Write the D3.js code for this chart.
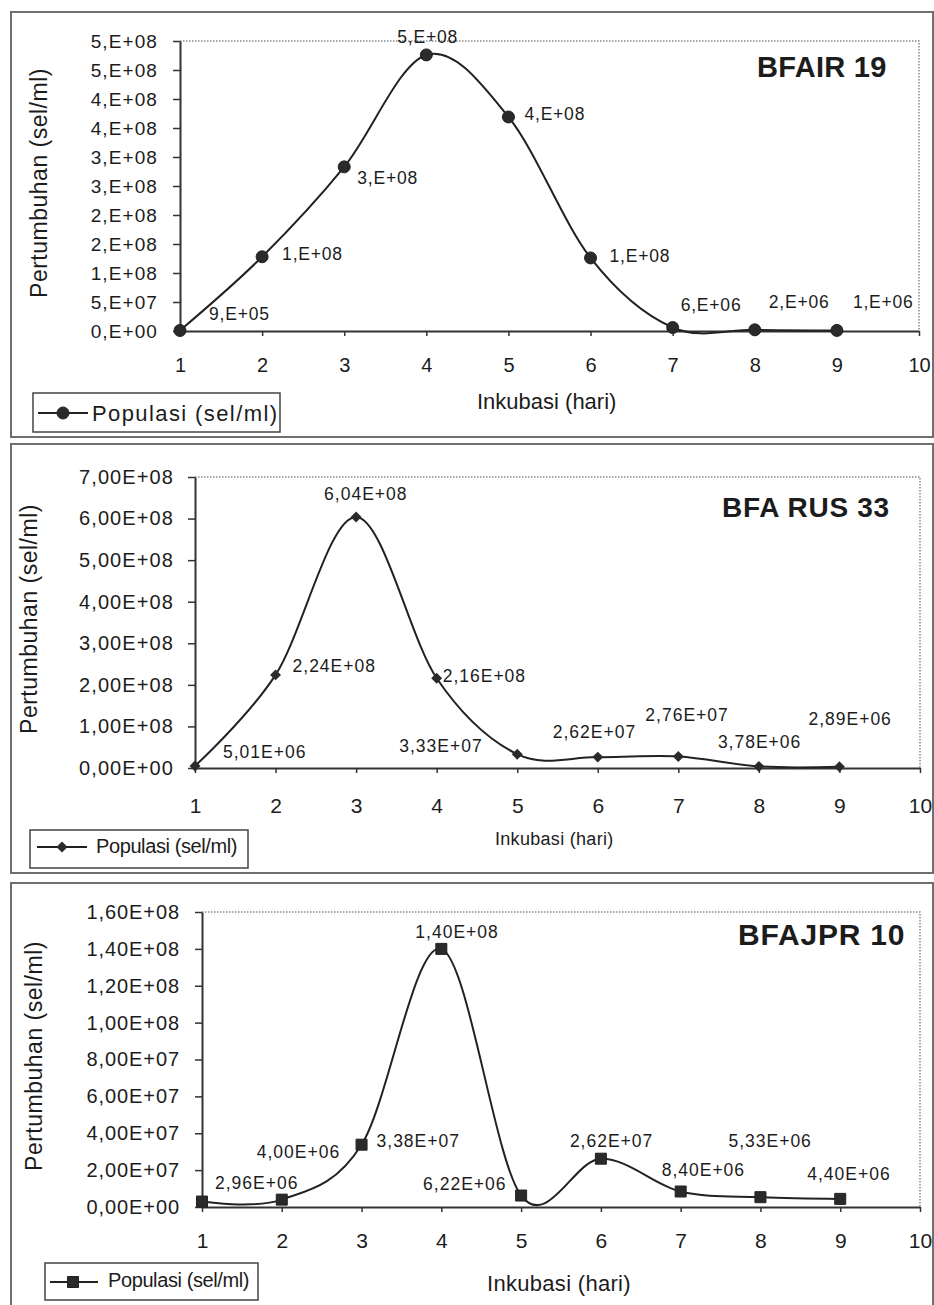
<!DOCTYPE html>
<html><head><meta charset="utf-8">
<script src="https://cdn.jsdelivr.net/npm/d3@7"></script>
<style>
body{margin:0;background:#fff}
svg{display:block}
text{font-family:'Liberation Sans',Arial,sans-serif;fill:#1c1c1c}
</style></head>
<body><svg id="c" width="934" height="1305"></svg>
<script>
// ---------------- DATA ----------------
const days = [1, 2, 3, 4, 5, 6, 7, 8, 9];
const xTickValues = [1, 2, 3, 4, 5, 6, 7, 8, 9, 10];

const bfair19Values = [9e5, 1.28e8, 2.83e8, 4.76e8, 3.69e8, 1.26e8, 6e6, 2e6, 1e6];
const bfair19Labels = ["9,E+05", "1,E+08", "3,E+08", "5,E+08", "4,E+08", "1,E+08", "6,E+06", "2,E+06", "1,E+06"];
const bfair19YTicks = [0, 5e7, 1e8, 1.5e8, 2e8, 2.5e8, 3e8, 3.5e8, 4e8, 4.5e8, 5e8];
const bfair19YTickLabels = ["0,E+00", "5,E+07", "1,E+08", "2,E+08", "2,E+08", "3,E+08", "3,E+08", "4,E+08", "4,E+08", "5,E+08", "5,E+08"];

const rus33Values = [5.01e6, 2.24e8, 6.04e8, 2.16e8, 3.33e7, 2.62e7, 2.76e7, 3.78e6, 2.89e6];
const rus33Labels = ["5,01E+06", "2,24E+08", "6,04E+08", "2,16E+08", "3,33E+07", "2,62E+07", "2,76E+07", "3,78E+06", "2,89E+06"];
const rus33YTicks = [0, 1e8, 2e8, 3e8, 4e8, 5e8, 6e8, 7e8];
const rus33YTickLabels = ["0,00E+00", "1,00E+08", "2,00E+08", "3,00E+08", "4,00E+08", "5,00E+08", "6,00E+08", "7,00E+08"];

const jpr10Values = [2.96e6, 4.00e6, 3.38e7, 1.40e8, 6.22e6, 2.62e7, 8.40e6, 5.33e6, 4.40e6];
const jpr10Labels = ["2,96E+06", "4,00E+06", "3,38E+07", "1,40E+08", "6,22E+06", "2,62E+07", "8,40E+06", "5,33E+06", "4,40E+06"];
const jpr10YTicks = [0, 2e7, 4e7, 6e7, 8e7, 1e8, 1.2e8, 1.4e8, 1.6e8];
const jpr10YTickLabels = ["0,00E+00", "2,00E+07", "4,00E+07", "6,00E+07", "8,00E+07", "1,00E+08", "1,20E+08", "1,40E+08", "1,60E+08"];

const titles = ["BFAIR 19", "BFA RUS 33", "BFAJPR 10"];
const yTitle = "Pertumbuhan (sel/ml)";
const xTitle = "Inkubasi (hari)";
const legendText = "Populasi (sel/ml)";

// ---------------- LAYOUT ----------------
const panels = [
  {
    values: bfair19Values, labels: bfair19Labels, yTicks: bfair19YTicks, yTickLabels: bfair19YTickLabels,
    title: titles[0], marker: "circle",
    frame: [11, 12, 922, 425],
    l: 180, r: 919, t: 41, b: 331, yMax: 5e8,
    yPad: 15, yFont: 19, yLs: 1.1, xPad: 22, xFont: 20,
    lblFont: 17.5, lblLs: 0.8,
    offsets: [[29,-10],[20,3],[13,17],[-29,-12],[16,3],[19,4],[8,-17],[14,-22],[16,-22]],
    titlePos: [757, 77, 29, 0.3],
    yTitlePos: [47, 183, 23, 0.5],
    xTitlePos: [477, 409, 22, 0],
    legend: {box: [33, 393, 247, 39], line: [38, 88, 413], mx: 63, tx: 92, ty: 421, font: 22, ls: 1.4}
  },
  {
    values: rus33Values, labels: rus33Labels, yTicks: rus33YTicks, yTickLabels: rus33YTickLabels,
    title: titles[1], marker: "diamond",
    frame: [11, 444, 922, 429],
    l: 195, r: 920, t: 477, b: 768, yMax: 7e8,
    yPad: 14, yFont: 20, yLs: 1.1, xPad: 25, xFont: 21,
    lblFont: 17.5, lblLs: 1,
    offsets: [[28,-8],[17,-3],[-32,-17],[6,4],[-118,-2],[-45,-19],[-33,-36],[-41,-18],[-31,-42]],
    titlePos: [722, 517, 28, 0.7],
    yTitlePos: [37, 619, 23, 0.5],
    xTitlePos: [495, 845, 18, 0.3],
    legend: {box: [30, 830, 218, 38], line: [37, 87, 847], mx: 62, tx: 96, ty: 853, font: 20, ls: -0.4}
  },
  {
    values: jpr10Values, labels: jpr10Labels, yTicks: jpr10YTicks, yTickLabels: jpr10YTickLabels,
    title: titles[2], marker: "square",
    frame: [11, 883, 922, 430],
    l: 202, r: 920, t: 912, b: 1207, yMax: 1.6e8,
    yPad: 15, yFont: 20, yLs: 0.9, xPad: 21, xFont: 21,
    lblFont: 17.5, lblLs: 1,
    offsets: [[13,-13],[-25,-42],[15,2],[-26,-11],[-98,-6],[-31,-12],[-19,-16],[-32,-50],[-33,-19]],
    titlePos: [738, 945, 30, 0.8],
    yTitlePos: [42, 1056, 23, 0.5],
    xTitlePos: [487, 1291, 22, 0.3],
    legend: {box: [45, 1263, 213, 37], line: [50, 98, 1282], mx: 73, tx: 108, ty: 1287, font: 20, ls: -0.4}
  }
];

const INK = "#222";
const svg = d3.select("#c");

function drawMarker(sel, type, cx, cy) {
  if (type === "circle") {
    sel.append("circle").attr("cx", cx).attr("cy", cy).attr("r", 6).attr("fill", "#2a2a2a").attr("stroke", "#222");
  } else if (type === "diamond") {
    sel.append("path").attr("d", d3.symbol(d3.symbolSquare, 60)())
      .attr("transform", `translate(${cx},${cy}) rotate(45)`).attr("fill", "#2a2a2a");
  } else {
    sel.append("path").attr("d", d3.symbol(d3.symbolSquare, 121)())
      .attr("transform", `translate(${cx},${cy})`).attr("fill", "#2a2a2a").attr("stroke", "#222");
  }
}

panels.forEach(p => {
  const g = svg.append("g");
  const [fx, fy, fw, fh] = p.frame;
  g.append("rect").attr("x", fx).attr("y", fy).attr("width", fw).attr("height", fh)
    .attr("fill", "none").attr("stroke", "#6f6f6f").attr("stroke-width", 2);

  const x = d3.scaleLinear().domain([1, 10]).range([p.l, p.r]);
  const y = d3.scaleLinear().domain([0, p.yMax]).range([p.b, p.t]);

  // dotted plot border top/right
  g.append("path").attr("d", `M${p.l},${p.t}H${p.r}V${p.b}`)
    .attr("fill", "none").attr("stroke", "#8a8a8a").attr("stroke-width", 1.5).attr("stroke-dasharray", "1.5,1.5");

  // y axis
  const ya = g.append("g").attr("transform", `translate(${p.l},0)`)
    .call(d3.axisLeft(y).tickValues(p.yTicks).tickFormat((d, i) => p.yTickLabels[i])
      .tickSize(7).tickSizeOuter(0).tickPadding(p.yPad));
  ya.select(".domain").attr("stroke", "#333").attr("stroke-width", 2);
  ya.selectAll(".tick line").attr("stroke", "#333").attr("stroke-width", 1.5);
  ya.selectAll(".tick text").attr("font-size", p.yFont).attr("letter-spacing", p.yLs).attr("fill", "#1c1c1c");

  // x axis
  const xa = g.append("g").attr("transform", `translate(0,${p.b})`)
    .call(d3.axisBottom(x).tickValues(xTickValues).tickFormat(d3.format("d"))
      .tickSize(5).tickSizeOuter(0).tickPadding(p.xPad));
  xa.select(".domain").attr("stroke", "#333").attr("stroke-width", 2);
  xa.selectAll(".tick line").attr("stroke", "#333").attr("stroke-width", 1.5);
  xa.selectAll(".tick text").attr("font-size", p.xFont).attr("fill", "#1c1c1c");

  // smoothed line
  const line = d3.line().x((d, i) => x(days[i])).y(d => y(d)).curve(d3.curveCardinal.tension(0));
  g.append("path").datum(p.values).attr("d", line)
    .attr("fill", "none").attr("stroke", INK).attr("stroke-width", 2);

  // markers
  p.values.forEach((v, i) => drawMarker(g, p.marker, x(days[i]), y(v)));

  // data labels
  g.selectAll("text.lbl").data(p.values).join("text").attr("class", "lbl")
    .attr("x", (d, i) => x(days[i]) + p.offsets[i][0])
    .attr("y", (d, i) => y(d) + p.offsets[i][1])
    .attr("font-size", p.lblFont).attr("letter-spacing", p.lblLs)
    .text((d, i) => p.labels[i]);

  // title
  g.append("text").attr("x", p.titlePos[0]).attr("y", p.titlePos[1])
    .attr("font-size", p.titlePos[2]).attr("letter-spacing", p.titlePos[3])
    .attr("font-weight", "bold").style("white-space", "pre").text(p.title);

  // axis titles
  g.append("text").attr("transform", `translate(${p.yTitlePos[0]},${p.yTitlePos[1]}) rotate(-90)`)
    .attr("text-anchor", "middle").attr("font-size", p.yTitlePos[2]).attr("letter-spacing", p.yTitlePos[3])
    .text(yTitle);
  g.append("text").attr("x", p.xTitlePos[0]).attr("y", p.xTitlePos[1])
    .attr("font-size", p.xTitlePos[2]).attr("letter-spacing", p.xTitlePos[3]).text(xTitle);

  // legend
  const L = p.legend;
  g.append("rect").attr("x", L.box[0]).attr("y", L.box[1]).attr("width", L.box[2]).attr("height", L.box[3])
    .attr("fill", "#fff").attr("stroke", "#444").attr("stroke-width", 1.5);
  g.append("line").attr("x1", L.line[0]).attr("x2", L.line[1]).attr("y1", L.line[2]).attr("y2", L.line[2])
    .attr("stroke", INK).attr("stroke-width", 2);
  drawMarker(g, p.marker, L.mx, L.line[2]);
  g.append("text").attr("x", L.tx).attr("y", L.ty).attr("font-size", L.font).attr("letter-spacing", L.ls)
    .text(legendText);
});
</script></body></html>
